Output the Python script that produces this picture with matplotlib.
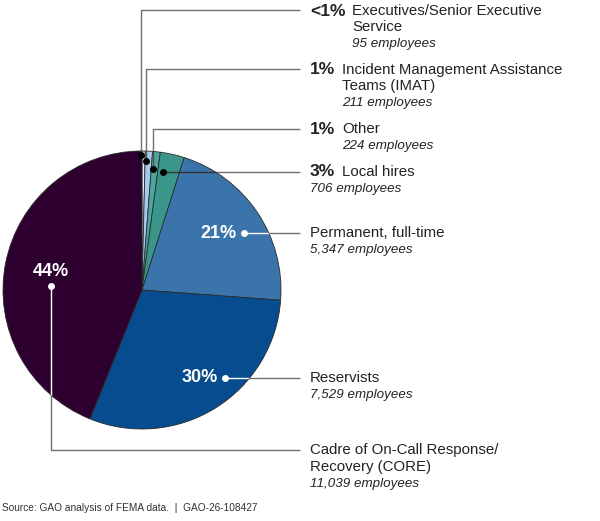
import matplotlib
matplotlib.use("Agg")
import matplotlib.pyplot as plt
from matplotlib.patches import Circle

categories = ["Executives/Senior Executive Service",
              "Incident Management Assistance Teams (IMAT)",
              "Other", "Local hires", "Permanent, full-time",
              "Reservists", "Cadre of On-Call Response/Recovery (CORE)"]
employees = [95, 211, 224, 706, 5347, 7529, 11039]
pct_labels = ["<1%", "1%", "1%", "3%", "21%", "30%", "44%"]
emp_labels = ["95 employees", "211 employees", "224 employees", "706 employees",
              "5,347 employees", "7,529 employees", "11,039 employees"]
colors = ["#e6ecf3", "#a4caef", "#4ba79d", "#3a968b", "#3b74aa", "#064c8e", "#2e0030"]

W, H = 600, 521
plt.rcParams['font.family'] = ['Liberation Sans', 'DejaVu Sans']
fig = plt.figure(figsize=(W / 100, H / 100), dpi=100)
ax = fig.add_axes([0, 0, 1, 1])

def Y(py):
    return H - py

CX, CY, R = 142, 290, 139
wedges, _ = ax.pie(employees, colors=colors, startangle=90, counterclock=False,
                   center=(CX, Y(CY)), radius=R,
                   wedgeprops=dict(edgecolor="#2a2a2a", linewidth=0.6))
for w in wedges:
    w.set_zorder(2)

ax.set_xlim(0, W)
ax.set_ylim(0, H)
ax.set_aspect("equal")
ax.axis("off")

gray = "#707070"
circle = Circle((CX, Y(CY)), R, transform=ax.transData)

def leader(pts, inner_color, dot_color):
    xs = [p[0] for p in pts]
    ys = [Y(p[1]) for p in pts]
    ax.plot(xs, ys, color=gray, lw=1.0, zorder=1, solid_capstyle="butt")
    ln, = ax.plot(xs, ys, color=inner_color, lw=1.0, zorder=3, solid_capstyle="butt")
    ln.set_clip_path(circle)
    ax.plot([xs[0]], [ys[0]], "o", color=dot_color, ms=5, zorder=4, mec="none")

# small slices: black dots, dark inner lines
leader([(141, 155), (141, 10), (300, 10)], "#555555", "black")
leader([(146, 161), (146, 69), (300, 69)], "#555555", "black")
leader([(153, 169), (153, 129), (300, 129)], "#555555", "black")
leader([(163, 172), (300, 172)], "#333333", "black")
# large slices: white dots, white inner lines
leader([(244, 233), (300, 233)], "white", "white")
leader([(225, 378), (300, 378)], "white", "white")
leader([(51, 286), (51, 450), (300, 450)], "white", "white")

# inside percentage labels
ax.text(218, Y(233), pct_labels[4], color="white", fontsize=13, fontweight="bold",
        ha="center", va="center", zorder=5)
ax.text(200, Y(378), pct_labels[5], color="white", fontsize=13, fontweight="bold",
        ha="center", va="center", zorder=5)
ax.text(51, Y(271), pct_labels[6], color="white", fontsize=13, fontweight="bold",
        ha="center", va="center", zorder=5)

TX = 310
txt = "#222222"
REG = 10.8
BOLD = 12.6
ITAL = 9.6

def t(x, y, s, **kw):
    style = dict(color=txt, ha="left", va="center")
    style.update(kw)
    ax.text(x, Y(y), s, **style)

# Executives
t(TX, 11, pct_labels[0], fontsize=BOLD, fontweight="bold")
t(352, 11, "Executives/Senior Executive", fontsize=REG)
t(352, 27, "Service", fontsize=REG)
t(352, 44, emp_labels[0], fontsize=ITAL, style="italic")
# IMAT
t(TX, 70, pct_labels[1], fontsize=BOLD, fontweight="bold")
t(342, 70, "Incident Management Assistance", fontsize=REG)
t(342, 86, "Teams (IMAT)", fontsize=REG)
t(342, 103, emp_labels[1], fontsize=ITAL, style="italic")
# Other
t(TX, 129, pct_labels[2], fontsize=BOLD, fontweight="bold")
t(342, 129, "Other", fontsize=REG)
t(342, 146, emp_labels[2], fontsize=ITAL, style="italic")
# Local hires
t(TX, 172, pct_labels[3], fontsize=BOLD, fontweight="bold")
t(342, 172, "Local hires", fontsize=REG)
t(TX, 189, emp_labels[3], fontsize=ITAL, style="italic")
# Permanent
t(TX, 233, "Permanent, full-time", fontsize=REG)
t(TX, 250, emp_labels[4], fontsize=ITAL, style="italic")
# Reservists
t(TX, 378, "Reservists", fontsize=REG)
t(TX, 395, emp_labels[5], fontsize=ITAL, style="italic")
# CORE
t(TX, 450, "Cadre of On-Call Response/", fontsize=REG)
t(TX, 467, "Recovery (CORE)", fontsize=REG)
t(TX, 484, emp_labels[6], fontsize=ITAL, style="italic")

t(2, 508, "Source: GAO analysis of FEMA data.  |  GAO-26-108427", fontsize=7.3, color="#333333")

fig.savefig("out.png", dpi=100, facecolor="white")
